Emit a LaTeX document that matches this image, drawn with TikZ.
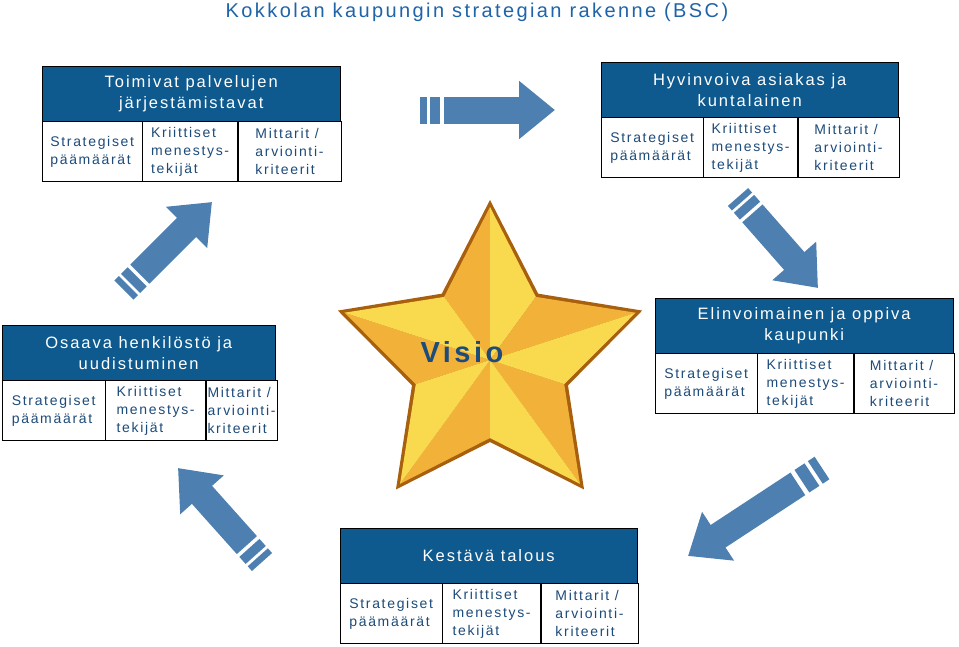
\documentclass[tikz,border=0pt]{standalone}
\usepackage{fontspec}
\setmainfont[LetterSpace=12]{Liberation Sans}
\usetikzlibrary{arrows.meta,calc}
\definecolor{hdrblue}{HTML}{0E5A8E}
\definecolor{txtblue}{HTML}{1D4B7A}
\definecolor{ttlblue}{HTML}{1F63A8}
\definecolor{arrblue}{HTML}{4D7FB0}
\definecolor{goldA}{HTML}{F2B23A}
\definecolor{goldB}{HTML}{A8600E}

\newcommand{\perspbox}[7]{% x, y, width, header, widths a b c
  \node[header, minimum width=#3pt, anchor=north west] (#4h) at (#1pt,-#2pt) {#5};
  \node[cell, minimum width=#6pt, anchor=north west] (#4a) at (#4h.south west) {Strategiset\\päämäärät};
  \node[cell, minimum width=#7pt, anchor=north west, align=left] (#4b) at (#4a.north east) {Kriittiset\\menestys-\\tekijät};
  \node[cell, minimum width=#3pt-#6pt-#7pt, anchor=north west, align=left] (#4c) at (#4b.north east) {Mittarit /\\arviointi-\\kriteerit};
}
\newcommand{\fatarrow}[2]{%
  \draw[arrowbody] (#1) -- ($(#1)!0.05!(#2)$);
  \draw[arrowbody] ($(#1)!0.075!(#2)$) -- ($(#1)!0.15!(#2)$);
  \draw[arrowbody, -{Triangle[width=56pt,length=36pt]}] ($(#1)!0.18!(#2)$) -- (#2);
}

\begin{document}
\begin{tikzpicture}[x=1pt, y=1pt,
  header/.style={rectangle, draw=black, fill=hdrblue, text=white, minimum height=55pt, align=center, inner sep=1pt, font=\fontsize{16.5}{21}\selectfont},
  cell/.style={rectangle, draw=black, fill=white, text=txtblue, minimum height=60pt, align=left, inner sep=1.5pt, font=\fontsize{14}{18}\selectfont},
  arrowbody/.style={line width=27pt, arrblue}]
  \useasboundingbox (0,0) rectangle (959,-646);

  % Title
  \node[text=ttlblue, font=\fontsize{20}{25}\selectfont] (title) at (477,-12) {Kokkolan kaupungin strategian rakenne (BSC)};

  % Star
  \coordinate (sc) at (490,-360);
  \fill[goldB] (sc) ++(90:160) \foreach \k in {1,...,9} {-- ($(sc)+(90+36*\k:{mod(\k,2)==1 ? 82 : 160})$)} -- cycle;
  \foreach \k in {0,2,4,6,8} {
    \fill[goldA] (sc) -- ($(sc)+(90+36*\k:153)$) -- ($(sc)+(90+36*\k+36:78)$) -- cycle;
    \fill[goldA!60!yellow!80!white] (sc) -- ($(sc)+(90+36*\k:153)$) -- ($(sc)+(90+36*\k-36:78)$) -- cycle;
  }
  \node[text=txtblue, font=\fontsize{29}{33}\selectfont\bfseries] (visio) at (462,-352) {Visio};

  % Perspectives
  \perspbox{42}{66}{298}{p1}{Toimivat palvelujen\\järjestämistavat}{100}{95}
  \perspbox{601}{62}{297}{p2}{Hyvinvoiva asiakas ja\\kuntalainen}{102}{94}
  \perspbox{2}{325}{273}{p3}{Osaava henkilöstö ja\\uudistuminen}{103}{100}
  \perspbox{655}{298}{298}{p4}{Elinvoimainen ja oppiva\\kaupunki}{102}{96}
  \perspbox{340}{528}{297}{p5}{Kestävä talous}{102}{98}

  % Arrows
  \coordinate (a1s) at (420,-110); \coordinate (a1e) at (555,-110);
  \coordinate (a2s) at (738,-197); \coordinate (a2e) at (818,-288);
  \coordinate (a3s) at (822,-468); \coordinate (a3e) at (688,-556);
  \coordinate (a4s) at (262,-562); \coordinate (a4e) at (178,-468);
  \coordinate (a5s) at (124,-290); \coordinate (a5e) at (212,-202);
  \fatarrow{a1s}{a1e}
  \fatarrow{a2s}{a2e}
  \fatarrow{a3s}{a3e}
  \fatarrow{a4s}{a4e}
  \fatarrow{a5s}{a5e}
\end{tikzpicture}
\end{document}
